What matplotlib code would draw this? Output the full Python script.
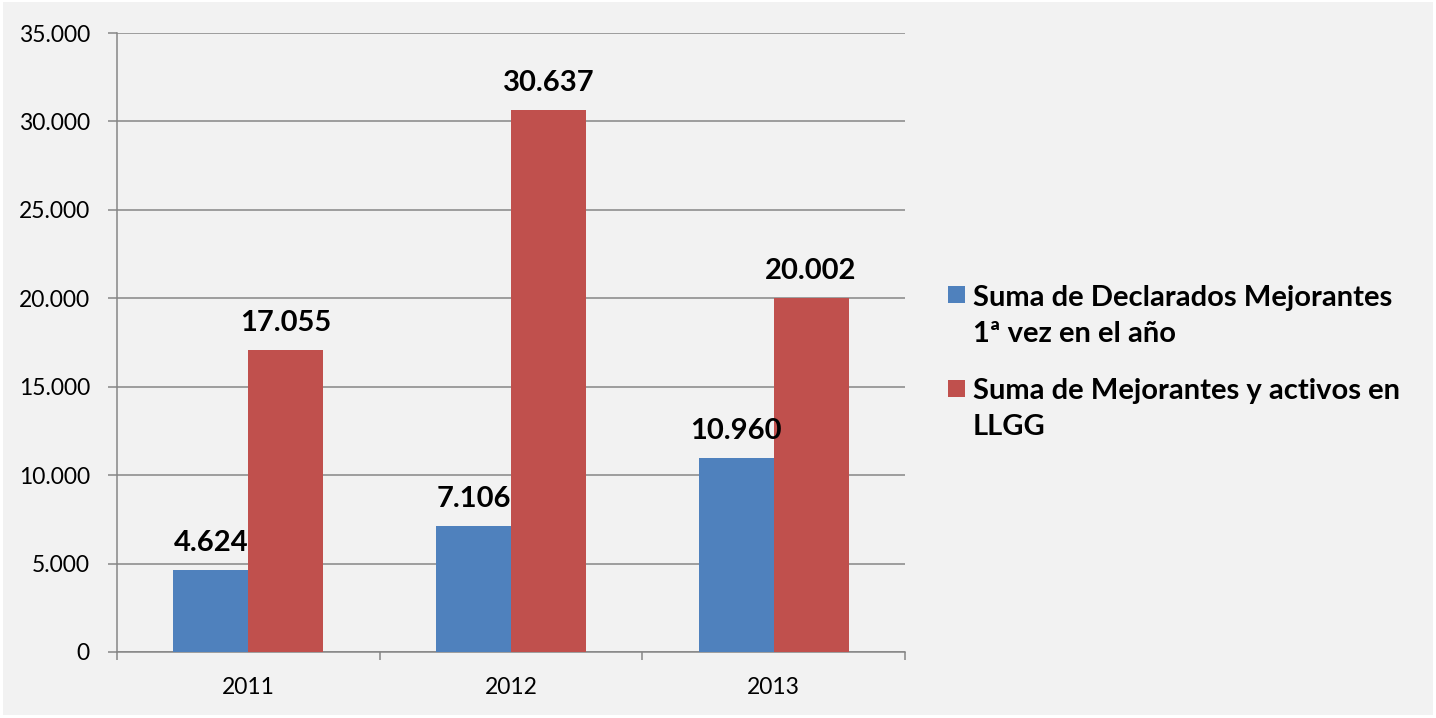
import numpy as np
import matplotlib.pyplot as plt
from matplotlib.patches import Rectangle

# data
years = ['2011', '2012', '2013']
declarados = [4624, 7106, 10960]
mejorantes_activos = [17055, 30637, 20002]
series_names = ['Suma de Declarados Mejorantes\n1ª vez en el año',
                'Suma de Mejorantes y activos en\nLLGG']
yticks = [0, 5000, 10000, 15000, 20000, 25000, 30000, 35000]

blue = '#4f81bd'
red = '#c0504d'
grid_col = '#868686'
plt.rcParams['font.family'] = ['Lato', 'DejaVu Sans']

W, H = 1436, 718


def fmt(v):
    return f'{v:,}'.replace(',', '.')


fig = plt.figure(figsize=(W / 100, H / 100), dpi=100, facecolor='white')
fig.patches.append(Rectangle((0.002, 0.004), 0.996, 0.993, transform=fig.transFigure,
                             facecolor='#f2f2f2', edgecolor='none', zorder=-10))
ax = fig.add_axes([117 / W, 66 / H, 788 / W, 619 / H])
ax.patch.set_alpha(0)

x = np.arange(len(years))
w = 0.285
b1 = ax.bar(x - w / 2, declarados, w, color=blue, zorder=3)
b2 = ax.bar(x + w / 2, mejorantes_activos, w, color=red, zorder=3)

for bars, vals in [(b1, declarados), (b2, mejorantes_activos)]:
    for r, v in zip(bars, vals):
        ax.annotate(fmt(v), (r.get_x() + r.get_width() / 2, v), xytext=(0, 14),
                    textcoords='offset points', ha='center', va='baseline',
                    fontsize=21, fontweight='bold', zorder=5)

ax.set_xlim(-0.5, 2.5)
ax.set_ylim(0, 35000)
ax.set_yticks(yticks)
ax.set_yticklabels([fmt(v) for v in yticks])
ax.set_xticks(x)
ax.set_xticklabels(years)
ax.set_xticks([-0.5, 0.5, 1.5, 2.5], minor=True)
ax.tick_params(axis='x', which='major', length=0, pad=18, labelsize=16.5)
ax.tick_params(axis='x', which='minor', length=6, width=1.1, color=grid_col)
ax.tick_params(axis='y', length=6.5, width=1.1, color=grid_col, labelsize=16.5, pad=13)

ax.yaxis.grid(True, color=grid_col, linewidth=1.1, zorder=0)
ax.set_axisbelow(True)
for s in ['top', 'right']:
    ax.spines[s].set_visible(False)
for s in ['left', 'bottom']:
    ax.spines[s].set_color(grid_col)
    ax.spines[s].set_linewidth(1.1)

# legend drawn by hand: marker sits on the first text line, like Excel does
# (marker bottom, baseline of the last text line) in pixels from the top
for name, col, mk, last in [(series_names[0], blue, 303, 342), (series_names[1], red, 397, 435)]:
    fig.patches.append(Rectangle((948 / W, (H - mk) / H), 17 / W, 17 / H,
                                 transform=fig.transFigure, facecolor=col, edgecolor='none'))
    fig.text(973 / W, (H - last) / H, name, ha='left', va='baseline', fontsize=21,
             fontweight='bold', linespacing=1.46)

fig.savefig('out.png', dpi=100, facecolor='white')
